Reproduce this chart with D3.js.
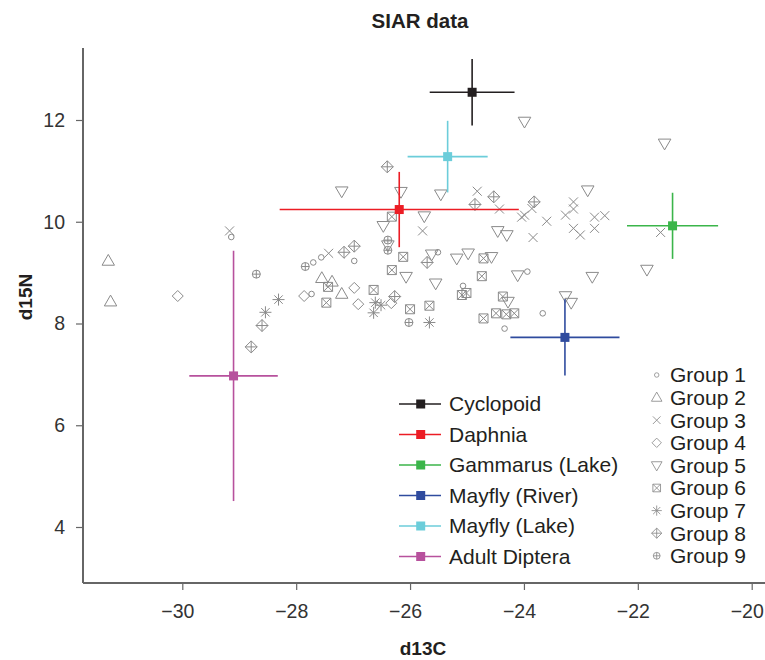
<!DOCTYPE html>
<html>
<head>
<meta charset="utf-8">
<script src="https://cdn.jsdelivr.net/npm/d3@7"></script>
<style>
  body { margin: 0; background: #fff; }
  svg { display: block; font-family: "Liberation Sans", Arial, sans-serif; }
</style>
</head>
<body>
<svg id="chart" width="765" height="660"></svg>
<script>
// ---------- data ----------
const xTicks = [-30, -28, -26, -24, -22, -20];
const yTicks = [4, 6, 8, 10, 12];

const sources   = ["Cyclopoid", "Daphnia", "Gammarus (Lake)", "Mayfly (River)", "Mayfly (Lake)", "Adult Diptera"];
const srcColors = ["#231f20", "#ec1c24", "#3bb54a", "#2f4b9e", "#6ccdda", "#b7519d"];
const srcMeanC  = [-24.91, -26.19, -21.39, -23.28, -25.34, -29.10];
const srcSdC    = [0.745, 2.10, 0.80, 0.958, 0.703, 0.777];
const srcMeanN  = [12.545, 10.24, 9.92, 7.727, 11.28, 6.97];
const srcSdN    = [0.655, 0.74, 0.65, 0.75, 0.704, 2.46];

const groups = ["Group 1", "Group 2", "Group 3", "Group 4", "Group 5", "Group 6", "Group 7", "Group 8", "Group 9"];

const g1C = [-29.14, -27.70, -27.56, -26.98, -25.51, -27.73, -25.07, -23.94, -23.67, -24.34];
const g1N = [9.70, 9.20, 9.30, 9.23, 9.40, 8.58, 8.74, 9.02, 8.20, 7.90];

const g2C = [-31.30, -31.26, -27.55, -27.37, -27.20];
const g2N = [9.23, 8.43, 8.89, 8.82, 8.58];

const g3C = [-29.17, -24.82, -25.78, -27.43, -24.43, -23.86, -24.04, -23.99, -23.60, -23.84, -23.13, -23.13, -23.27, -22.76, -22.58, -22.76, -23.13, -23.01, -21.60];
const g3N = [9.82, 10.60, 9.82, 9.38, 10.25, 10.26, 10.09, 10.13, 10.01, 9.69, 10.39, 10.25, 10.13, 10.09, 10.12, 9.87, 9.87, 9.74, 9.79];

const g4C = [-30.08, -27.86, -26.98, -26.91, -26.33];
const g4N = [8.54, 8.54, 8.70, 8.38, 8.40];

const g5C = [-23.99, -21.53, -22.88, -27.20, -26.16, -25.46, -25.75, -26.47, -26.39, -25.62, -25.18, -24.98, -26.07, -25.55, -24.46, -24.30, -24.57, -21.84, -24.11, -22.80, -24.28, -23.27, -23.17];
const g5N = [11.97, 11.54, 10.62, 10.60, 10.59, 10.54, 10.11, 9.92, 9.54, 9.36, 9.28, 9.38, 8.92, 8.79, 9.82, 9.74, 9.31, 9.06, 8.95, 8.92, 8.43, 8.54, 8.41];

const g6C = [-26.32, -26.12, -24.71, -26.32, -24.74, -27.44, -27.47, -26.64, -26.00, -25.66, -25.09, -25.01, -24.71, -24.37, -24.49, -24.31, -24.17];
const g6N = [10.10, 9.31, 9.28, 9.05, 8.93, 8.72, 8.41, 8.66, 8.28, 8.35, 8.56, 8.60, 8.10, 8.53, 8.20, 8.18, 8.20];

const g7C = [-28.31, -28.54, -26.61, -26.51, -26.64, -25.66];
const g7N = [8.47, 8.22, 8.41, 8.36, 8.21, 8.02];

const g8C = [-28.60, -28.79, -26.40, -24.86, -24.53, -23.82, -27.16, -26.98, -25.70, -26.27];
const g8N = [7.96, 7.54, 11.08, 10.34, 10.49, 10.39, 9.40, 9.52, 9.20, 8.53];

const g9C = [-28.70, -27.84, -26.39, -26.39, -26.02];
const g9N = [8.97, 9.12, 9.64, 9.44, 8.02];

const groupC = [g1C, g2C, g3C, g4C, g5C, g6C, g7C, g8C, g9C];
const groupN = [g1N, g2N, g3N, g4N, g5N, g6N, g7N, g8N, g9N];

// ---------- layout ----------
const svg = d3.select("#chart");
const x = d3.scaleLinear().domain([-30, -20]).range([182.3, 751.7]);
const y = d3.scaleLinear().domain([4, 12]).range([527, 120]);
const plotLeft = 83, plotRight = 765, plotTop = 48, plotBottom = 583;
const axisColor = "#666";
const pointColor = "#8a8a8a";

// axes
const xAxis = svg.append("g").attr("transform", `translate(0,${plotBottom})`)
  .call(d3.axisBottom(x).tickValues(xTicks).tickSize(7).tickPadding(14).tickSizeOuter(0));
const yAxis = svg.append("g").attr("transform", `translate(${plotLeft},0)`)
  .call(d3.axisLeft(y).tickValues(yTicks).tickSize(7).tickPadding(11).tickSizeOuter(0));
[xAxis, yAxis].forEach(a => {
  a.select(".domain").remove();
  a.selectAll(".tick line").attr("stroke", axisColor).attr("stroke-width", 1.2);
  a.selectAll(".tick text").attr("fill", "#333").style("font-size", "19.5px")
    .style("font-family", "'Liberation Sans', Arial, sans-serif");
});
xAxis.selectAll(".tick text").attr("dx", -5);
svg.append("line").attr("x1", plotLeft).attr("x2", plotRight).attr("y1", plotBottom).attr("y2", plotBottom)
  .attr("stroke", axisColor).attr("stroke-width", 2);
svg.append("line").attr("x1", plotLeft).attr("x2", plotLeft).attr("y1", plotTop).attr("y2", plotBottom)
  .attr("stroke", axisColor).attr("stroke-width", 2);

// titles
svg.append("text").attr("x", 420).attr("y", 28).attr("text-anchor", "middle")
  .style("font-weight", "bold").style("font-size", "20.5px").attr("fill", "#231f20").text("SIAR data");
svg.append("text").attr("x", 423).attr("y", 655).attr("text-anchor", "middle")
  .style("font-weight", "bold").style("font-size", "19px").attr("fill", "#231f20").text("d13C");
svg.append("text").attr("transform", "translate(32,297) rotate(-90)").attr("text-anchor", "middle")
  .style("font-weight", "bold").style("font-size", "19px").attr("fill", "#231f20").text("d15N");

// symbol paths (centered at 0,0)
function symbolPath(i) {
  const p = d3.path();
  switch (i) {
    case 0: p.moveTo(2.8, 0); p.arc(0, 0, 2.8, 0, 2 * Math.PI); break;
    case 1: p.moveTo(0, -6.5); p.lineTo(6.2, 4.3); p.lineTo(-6.2, 4.3); p.closePath(); break;
    case 2: p.moveTo(-4.5, -4.5); p.lineTo(4.5, 4.5); p.moveTo(4.5, -4.5); p.lineTo(-4.5, 4.5); break;
    case 3: p.moveTo(0, -5.5); p.lineTo(5.5, 0); p.lineTo(0, 5.5); p.lineTo(-5.5, 0); p.closePath(); break;
    case 4: p.moveTo(-6.3, -4.3); p.lineTo(6.3, -4.3); p.lineTo(0, 6.5); p.closePath(); break;
    case 5: p.rect(-4.5, -4.5, 9, 9); p.moveTo(-4.5, -4.5); p.lineTo(4.5, 4.5); p.moveTo(4.5, -4.5); p.lineTo(-4.5, 4.5); break;
    case 6: p.moveTo(-4.2, -4.2); p.lineTo(4.2, 4.2); p.moveTo(4.2, -4.2); p.lineTo(-4.2, 4.2);
            p.moveTo(0, -6); p.lineTo(0, 6); p.moveTo(-6, 0); p.lineTo(6, 0); break;
    case 7: p.moveTo(0, -6); p.lineTo(6, 0); p.lineTo(0, 6); p.lineTo(-6, 0); p.closePath();
            p.moveTo(0, -6); p.lineTo(0, 6); p.moveTo(-6, 0); p.lineTo(6, 0); break;
    case 8: p.moveTo(4, 0); p.arc(0, 0, 4, 0, 2 * Math.PI); p.moveTo(0, -4); p.lineTo(0, 4); p.moveTo(-4, 0); p.lineTo(4, 0); break;
  }
  return p.toString();
}

// points
const pts = svg.append("g").attr("fill", "none").attr("stroke", pointColor).attr("stroke-width", 1);
groupC.forEach((cs, gi) => {
  cs.forEach((c, j) => {
    pts.append("path").attr("d", symbolPath(gi))
      .attr("transform", `translate(${x(c)},${y(groupN[gi][j])})`);
  });
});

// source means with error bars
const bars = svg.append("g");
sources.forEach((s, i) => {
  const cx = x(srcMeanC[i]), cy = y(srcMeanN[i]);
  bars.append("line").attr("x1", x(srcMeanC[i] - srcSdC[i])).attr("x2", x(srcMeanC[i] + srcSdC[i]))
    .attr("y1", cy).attr("y2", cy).attr("stroke", srcColors[i]).attr("stroke-width", 1.6);
  bars.append("line").attr("x1", cx).attr("x2", cx)
    .attr("y1", y(srcMeanN[i] + srcSdN[i])).attr("y2", y(srcMeanN[i] - srcSdN[i]))
    .attr("stroke", srcColors[i]).attr("stroke-width", 1.6);
  bars.append("rect").attr("x", cx - 4.5).attr("y", cy - 4.5).attr("width", 9).attr("height", 9)
    .attr("fill", srcColors[i]);
});

// source legend
const leg1 = svg.append("g");
sources.forEach((s, i) => {
  const ly = 404 + i * 30.5;
  leg1.append("line").attr("x1", 399).attr("x2", 441).attr("y1", ly).attr("y2", ly)
    .attr("stroke", srcColors[i]).attr("stroke-width", 1.6);
  leg1.append("rect").attr("x", 416.2).attr("y", ly - 4.5).attr("width", 9).attr("height", 9).attr("fill", srcColors[i]);
  leg1.append("text").attr("x", 449).attr("y", ly).attr("dy", "0.35em")
    .style("font-size", "21px").attr("fill", "#231f20").text(s);
});

// group legend
const leg2 = svg.append("g");
groups.forEach((gname, i) => {
  const ly = 375 + i * 22.6;
  const sc = i === 0 ? 0.8 : 0.85;
  leg2.append("path").attr("d", symbolPath(i))
    .attr("transform", `translate(656.7,${ly}) scale(${sc})`)
    .attr("fill", "none").attr("stroke", pointColor).attr("stroke-width", 1);
  leg2.append("text").attr("x", 670).attr("y", ly).attr("dy", "0.35em")
    .style("font-size", "21px").attr("fill", "#231f20").text(gname);
});
</script>
</body>
</html>
